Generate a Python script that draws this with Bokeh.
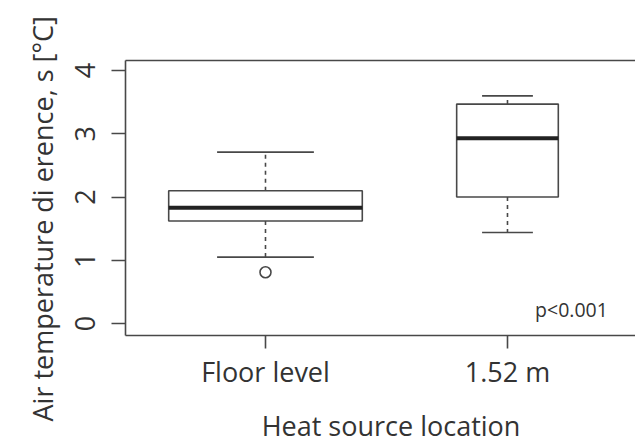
from bokeh.plotting import figure
from bokeh.models import Range1d, FixedTicker, LinearAxis, Title
from bokeh.embed import file_html
from bokeh.resources import INLINE
from bokeh.core.properties import value

categories = ["Floor level", "1.52 m"]
positions = [1, 2]
q1 = [1.62, 2.00]
median = [1.83, 2.93]
q3 = [2.10, 3.47]
whisker_low = [1.05, 1.44]
whisker_high = [2.71, 3.60]
box_width = [0.80, 0.42]
outlier_pos = [1]
outlier_val = [0.81]
y_ticks = [0, 1, 2, 3, 4]
p_label = "p<0.001"
x_title = "Heat source location"
y_title = "Air temperature di erence, s [°C]"

FONT = "Open Sans"
TEXT = "#333333"
LINE = "#484848"

p = figure(width=635, height=446, output_backend="svg", toolbar_location=None,
           x_range=Range1d(0.4215, 2.529), y_range=Range1d(-0.19, 4.16),
           min_border_left=125, min_border_right=0, min_border_top=60,
           min_border_bottom=111)
p.grid.visible = False
p.outline_line_color = None
p.background_fill_color = "white"
p.border_fill_color = "white"

left = [x - w / 2 for x, w in zip(positions, box_width)]
right = [x + w / 2 for x, w in zip(positions, box_width)]
cap_l = [x - w / 4 for x, w in zip(positions, box_width)]
cap_r = [x + w / 4 for x, w in zip(positions, box_width)]

# whiskers (dashed)
p.segment(x0=positions, y0=q3, x1=positions, y1=whisker_high,
          line_color=LINE, line_width=1.6, line_dash="4 4")
p.segment(x0=positions, y0=q1, x1=positions, y1=whisker_low,
          line_color=LINE, line_width=1.6, line_dash="4 4")
# caps
p.segment(x0=cap_l, y0=whisker_high, x1=cap_r, y1=whisker_high,
          line_color=LINE, line_width=1.6)
p.segment(x0=cap_l, y0=whisker_low, x1=cap_r, y1=whisker_low,
          line_color=LINE, line_width=1.6)
# boxes
p.quad(left=left, right=right, bottom=q1, top=q3,
       fill_color="white", line_color=LINE, line_width=1.6)
# medians
p.segment(x0=left, y0=median, x1=right, y1=median,
          line_color="#222222", line_width=4)
# outlier
p.scatter(outlier_pos, outlier_val, marker="circle", size=11,
          fill_color=None, line_color=LINE, line_width=1.6)

p.text(x=[2.114], y=[0.22], text=[p_label], text_font=value(FONT),
       text_font_size="19.5px", text_baseline="middle", text_align="left",
       text_color=TEXT)

for ax in (p.xaxis[0], p.yaxis[0]):
    ax.axis_line_color = LINE
    ax.axis_line_width = 1.6
    ax.major_tick_line_color = LINE
    ax.major_tick_line_width = 1.6
    ax.major_tick_in = 0
    ax.minor_tick_line_color = None
    ax.major_label_text_font = FONT
    ax.major_label_text_font_size = "27px"
    ax.major_label_text_color = TEXT

xa = p.xaxis[0]
xa.ticker = FixedTicker(ticks=positions)
xa.major_label_overrides = {pos: lab for pos, lab in zip(positions, categories)}
xa.major_tick_out = 13
xa.major_label_standoff = 4
xa.axis_label = "\u00a0" * 3 + x_title
xa.axis_label_standoff = 14
xa.axis_label_text_font = FONT
xa.axis_label_text_font_size = "27px"
xa.axis_label_text_font_style = "normal"
xa.axis_label_text_color = TEXT

ya = p.yaxis[0]
ya.ticker = FixedTicker(ticks=y_ticks)
ya.major_tick_out = 14
ya.major_label_orientation = "vertical"
ya.major_label_standoff = 16

# y title as a side title, placed off-centre like the original
p.add_layout(Title(text=y_title, align="left", offset=-86, standoff=23,
                   text_font=FONT, text_font_size="27px",
                   text_font_style="normal", text_color=TEXT), "left")

top = LinearAxis(ticker=FixedTicker(ticks=[]), axis_line_color=LINE,
                 axis_line_width=1.6, major_tick_line_color=None,
                 minor_tick_line_color=None, major_label_text_font_size="0px")
p.add_layout(top, "above")

open("out.html", "w").write(file_html(p, INLINE))
